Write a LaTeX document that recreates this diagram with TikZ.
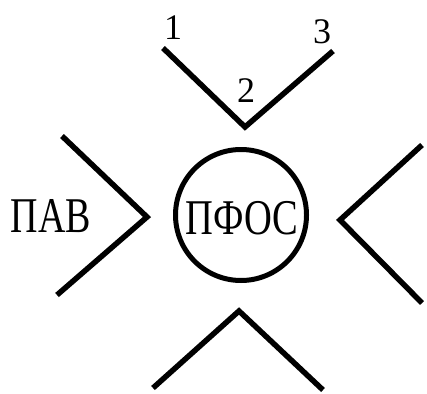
\documentclass[tikz,border=0pt]{standalone}
\usepackage{fontspec}
\setmainfont{Liberation Serif}
\begin{document}
\begin{tikzpicture}[x=1pt,y=-1pt,
  chev/.style={line width=5.5pt,line cap=butt,line join=miter},
  big/.style={font=\fontsize{50}{54}\selectfont,inner sep=0pt},
  num/.style={font=\fontsize{36}{40}\selectfont,inner sep=0pt}]
\useasboundingbox (0,0) rectangle (427,393);
% top V
\coordinate (t1) at (163,48);
\coordinate (t2) at (245,127);
\coordinate (t3) at (333,51);
\draw[chev] (t1) -- (t2) -- (t3);
\node[num] (n1) at (173,28) {1};
\node[num] (n2) at (246,91) {2};
\node[num] (n3) at (322,32) {3};
% left >
\coordinate (l1) at (62,136);
\coordinate (l2) at (147,217);
\coordinate (l3) at (57,295);
\draw[chev] (l1) -- (l2) -- (l3);
\node[big] (pav) at (51,216) {\scalebox{0.76}[1]{ПАВ}};
% circle
\node[draw,circle,line width=5pt,minimum size=131pt,inner sep=0pt] (c) at (241,215) {};
\node[big] (pfos) at (242,218) {\scalebox{0.77}[1]{ПФОС}};
% right <
\coordinate (r1) at (422,145);
\coordinate (r2) at (340,220);
\coordinate (r3) at (422,303);
\draw[chev] (r1) -- (r2) -- (r3);
% bottom ^
\coordinate (b1) at (153,388);
\coordinate (b2) at (239,311);
\coordinate (b3) at (323,390);
\draw[chev] (b1) -- (b2) -- (b3);
\end{tikzpicture}
\end{document}
